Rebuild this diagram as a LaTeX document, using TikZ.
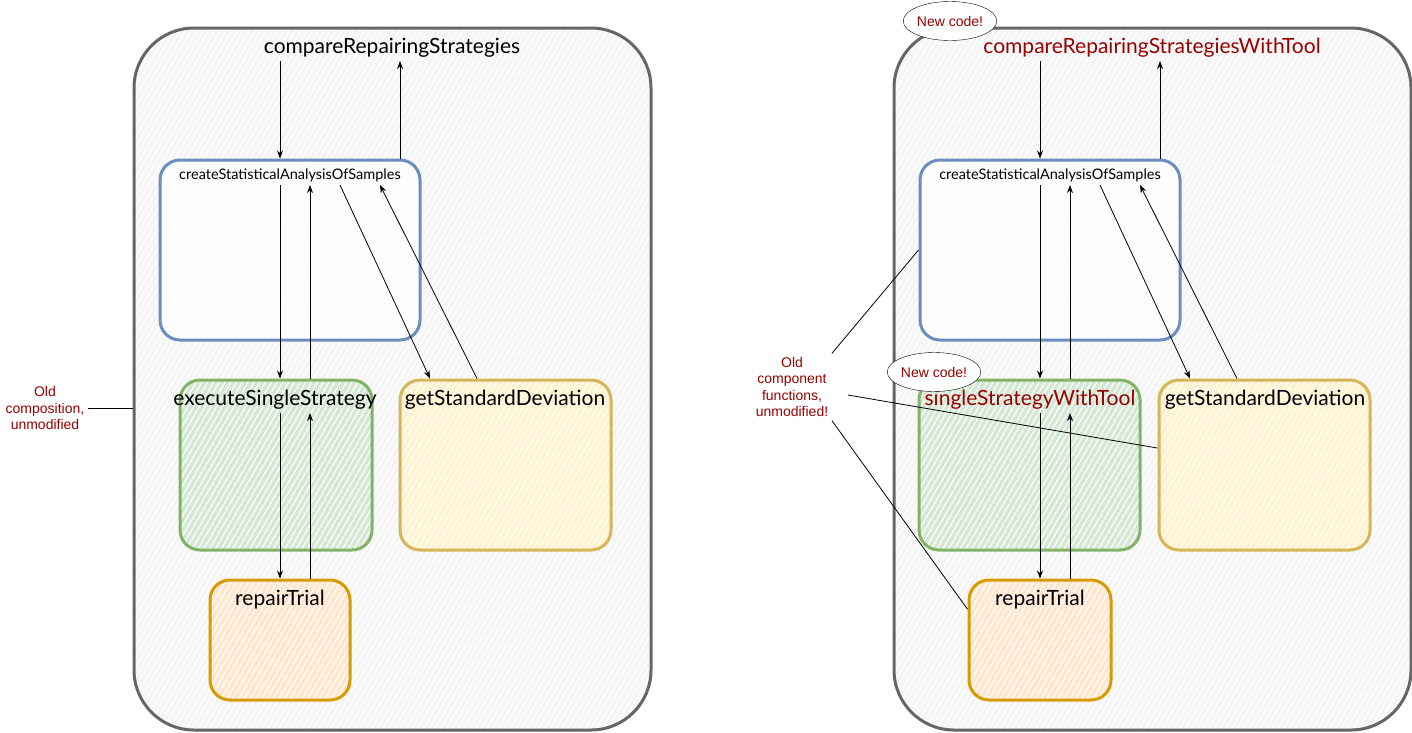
\documentclass[tikz,border=0pt]{standalone}
\usepackage{fontspec}
\setmainfont{Liberation Sans}
\newfontfamily\handfont{Lato}
\usepackage{tikz}
\usetikzlibrary{arrows, arrows.meta, positioning, shapes.geometric, patterns.meta}

\definecolor{noteRed}{RGB}{153,0,0}
\definecolor{groupGray}{HTML}{666666}
\definecolor{groupFill}{HTML}{F5F5F5}
\definecolor{blueLine}{HTML}{6C8EBF}
\definecolor{greenLine}{HTML}{82B366}
\definecolor{greenFill}{HTML}{D5E8D4}
\definecolor{yellowLine}{HTML}{D6B656}
\definecolor{yellowFill}{HTML}{FFF2CC}
\definecolor{orangeLine}{HTML}{D79B00}
\definecolor{orangeFill}{HTML}{FFE6CC}

\begin{document}
\begin{tikzpicture}[
            x = 1pt, y = -1pt, % one unit per pixel, y going down
            > = {Stealth[length=8pt, width=6pt]}, % arrow head style
            thick % line style
        ]

        \tikzset{hatch/.style={
            preaction = {fill = #1},
            preaction = {pattern = {Lines[angle=60, distance=5pt, line width=1.2pt]},
                pattern color = white}
        }}
        \tikzstyle{group}=[
            draw = groupGray,
            line width = 3pt,
            rounded corners = 60pt,
            hatch = groupFill
        ]
        \tikzstyle{fnbox}=[
            line width = 3pt,
            rounded corners = 20pt,
            inner sep = 0pt
        ]
        \tikzstyle{fn}=[
            font = \handfont\fontsize{21}{25}\selectfont,
            inner sep = 3pt
        ]
        \tikzstyle{note}=[
            font = \fontsize{14}{16.5}\selectfont,
            text = noteRed,
            align = center
        ]
        \tikzstyle{newcode}=[
            ellipse,
            draw = black,
            thin,
            fill = white,
            note,
            inner sep = 0pt,
            minimum width = 81pt,
            minimum height = 39pt
        ]

        \useasboundingbox (0,0) rectangle (1412,732);

        % old composition
        \node[group, minimum width=517pt, minimum height=702pt] (groupL) at (392.5,379) {};
        \node[fnbox, draw=blueLine, preaction={fill=white, fill opacity=0.7},
            minimum width=260pt, minimum height=180pt] (statBoxL) at (290,250) {};
        \node[fnbox, draw=greenLine, hatch=greenFill,
            minimum width=192pt, minimum height=170pt] (execBoxL) at (276,465) {};
        \node[fnbox, draw=yellowLine, hatch=yellowFill,
            minimum width=211pt, minimum height=170pt] (devBoxL) at (505.5,465) {};
        \node[fnbox, draw=orangeLine, hatch=orangeFill,
            minimum width=140pt, minimum height=120pt] (trialBoxL) at (280,640) {};

        \node[fn] (cmpL) at (392,48) {compareRepairingStrategies};
        \node[fn, font=\handfont\fontsize{14.5}{17}\selectfont] (statL) at (290,175) {createStatisticalAnalysisOfSamples};
        \node[fn] (execL) at (275,400) {executeSingleStrategy};
        \node[fn] (devL) at (505,400) {getStandardDeviation};
        \node[fn] (trialL) at (280,600) {repairTrial};

        \path[->] ([xshift=-112pt]cmpL.south) edge ([xshift=-10pt]statBoxL.north);
        \path[->] ([xshift=110pt]statBoxL.north) edge ([xshift=8pt]cmpL.south);
        \path[->] ([xshift=-10pt]statL.south) edge ([xshift=4pt]execBoxL.north);
        \path[->] ([xshift=34pt]execBoxL.north) edge ([xshift=20pt]statL.south);
        \path[->] ([xshift=50pt]statL.south) edge ([xshift=-75.5pt]devBoxL.north);
        \path[->] ([xshift=-28.5pt]devBoxL.north) edge ([xshift=90pt]statL.south);
        \path[->] ([xshift=5pt]execL.south) edge (trialBoxL.north);
        \path[->] ([xshift=30pt]trialBoxL.north) edge ([xshift=35pt]execL.south);

        \node[note] (oldL) at (45,408) {Old\\composition,\\unmodified};
        \draw (oldL.east) -- (oldL.east -| groupL.west);

        % new composition
        \node[group, minimum width=517pt, minimum height=702pt] (groupR) at (1152.5,379) {};
        \node[fnbox, draw=blueLine, preaction={fill=white, fill opacity=0.7},
            minimum width=260pt, minimum height=180pt] (statBoxR) at (1050,250) {};
        \node[fnbox, draw=greenLine, hatch=greenFill,
            minimum width=221pt, minimum height=170pt] (execBoxR) at (1029.5,465) {};
        \node[fnbox, draw=yellowLine, hatch=yellowFill,
            minimum width=211pt, minimum height=170pt] (devBoxR) at (1264.5,465) {};
        \node[fnbox, draw=orangeLine, hatch=orangeFill,
            minimum width=142pt, minimum height=120pt] (trialBoxR) at (1040,640) {};

        \node[fn, text=noteRed] (cmpR) at (1152,48) {compareRepairingStrategiesWithTool};
        \node[fn, font=\handfont\fontsize{14.5}{17}\selectfont] (statR) at (1050,175) {createStatisticalAnalysisOfSamples};
        \node[fn, text=noteRed] (execR) at (1030,400) {singleStrategyWithTool};
        \node[fn] (devR) at (1265,400) {getStandardDeviation};
        \node[fn] (trialR) at (1040,600) {repairTrial};

        \path[->] ([xshift=-112pt]cmpR.south) edge ([xshift=-10pt]statBoxR.north);
        \path[->] ([xshift=110pt]statBoxR.north) edge ([xshift=8pt]cmpR.south);
        \path[->] ([xshift=-10pt]statR.south) edge ([xshift=10.5pt]execBoxR.north);
        \path[->] ([xshift=40.5pt]execBoxR.north) edge ([xshift=20pt]statR.south);
        \path[->] ([xshift=50pt]statR.south) edge ([xshift=-74.5pt]devBoxR.north);
        \path[->] ([xshift=-27.5pt]devBoxR.north) edge ([xshift=90pt]statR.south);
        \path[->] ([xshift=10pt]execR.south) edge (trialBoxR.north);
        \path[->] ([xshift=30pt]trialBoxR.north) edge ([xshift=40pt]execR.south);

        \node[note] (oldR) at (792,387) {Old\\component\\functions,\\unmodified!};
        \draw (oldR.north east) -- (statBoxR.west);
        \draw ([xshift=16pt,yshift=-8pt]oldR.east) -- (devBoxR.171);
        \draw (oldR.south east) -- (trialBoxR.157);

        \node[newcode] (newTop) at (950,21) {New code!};
        \node[newcode] (newMid) at (934,372) {New code!};

  \end{tikzpicture}
\end{document}
